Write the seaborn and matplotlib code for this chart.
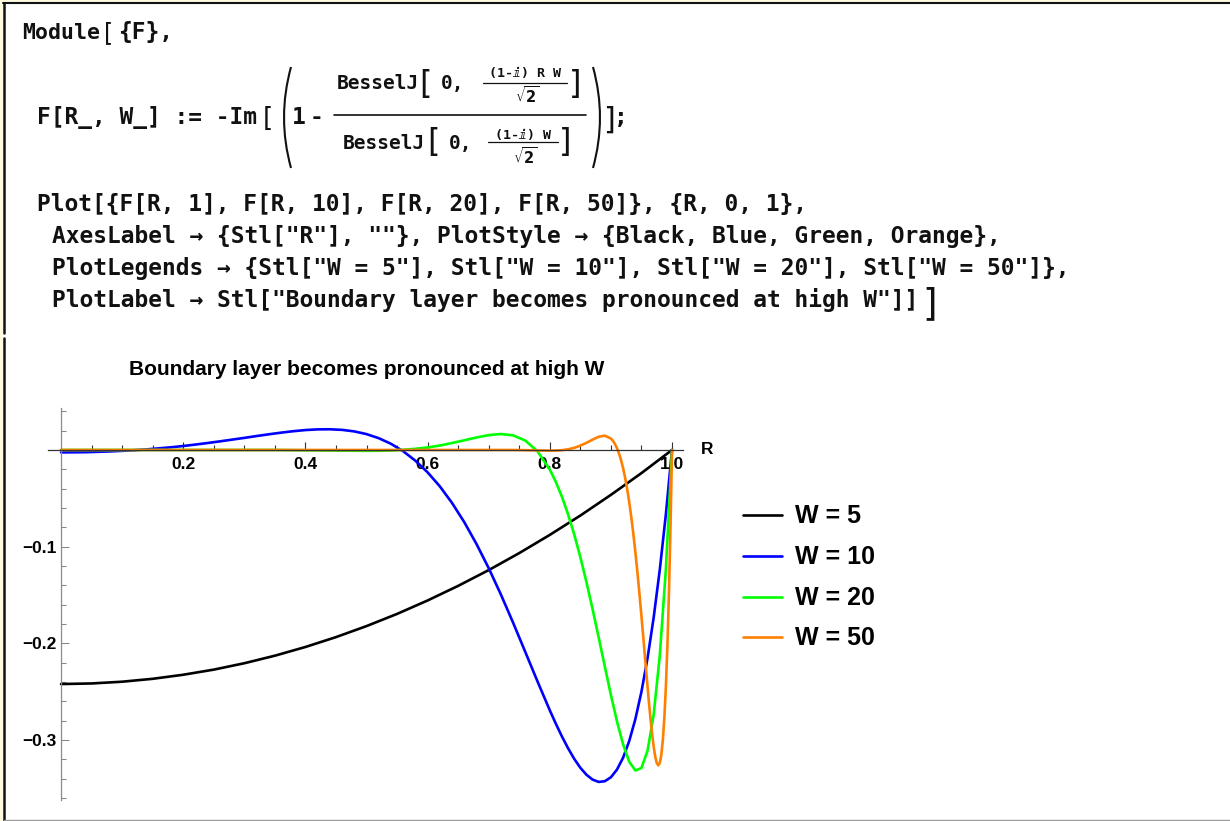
import matplotlib
matplotlib.use("Agg")
import matplotlib.pyplot as plt
import numpy as np
import pandas as pd
import seaborn as sns
from matplotlib.lines import Line2D
from matplotlib.patches import Rectangle, PathPatch
from matplotlib.path import Path
from matplotlib.ticker import FixedLocator, FuncFormatter

# ---------------------------------------------------------------- data
R_W1 = [0.00, 0.05, 0.10, 0.15, 0.20, 0.25, 0.30, 0.35, 0.40, 0.45,
        0.50, 0.55, 0.60, 0.65, 0.70, 0.75, 0.80, 0.85, 0.90, 0.95, 1.00]
F_W1 = [-0.2420, -0.2414, -0.2396, -0.2366, -0.2324, -0.2271, -0.2205, -0.2127, -0.2037, -0.1935,
        -0.1821, -0.1695, -0.1556, -0.1405, -0.1242, -0.1066, -0.0878, -0.0678, -0.0464, -0.0239,
        0.0]

R_W10 = [0.00, 0.02, 0.04, 0.06, 0.08, 0.10, 0.12, 0.14, 0.16, 0.18,
         0.20, 0.22, 0.24, 0.26, 0.28, 0.30, 0.32, 0.34, 0.36, 0.38,
         0.40, 0.42, 0.44, 0.46, 0.48, 0.50, 0.52, 0.54, 0.56, 0.58,
         0.60, 0.62, 0.64, 0.66, 0.68, 0.70, 0.72, 0.74, 0.76, 0.78,
         0.80, 0.81, 0.82, 0.83, 0.84, 0.85, 0.86, 0.87, 0.88, 0.89,
         0.90, 0.91, 0.92, 0.93, 0.94, 0.95, 0.96, 0.97, 0.98, 0.99,
         1.00]
F_W10 = [-0.0025, -0.0024, -0.0023, -0.0019, -0.0015, -0.0009, -0.0002, 0.0006, 0.0017, 0.0028,
         0.0041, 0.0056, 0.0072, 0.0089, 0.0107, 0.0125, 0.0144, 0.0162, 0.0179, 0.0194,
         0.0206, 0.0213, 0.0214, 0.0208, 0.0192, 0.0164, 0.0122, 0.0064, -0.0013, -0.0111,
         -0.0231, -0.0376, -0.0548, -0.0746, -0.0972, -0.1222, -0.1495, -0.1787, -0.2090, -0.2395,
         -0.2692, -0.2832, -0.2964, -0.3085, -0.3194, -0.3286, -0.3358, -0.3408, -0.3432, -0.3425,
         -0.3384, -0.3304, -0.3181, -0.3009, -0.2783, -0.2499, -0.2151, -0.1732, -0.1238, -0.0663,
         0.0]

R_W20 = [0.00, 0.05, 0.10, 0.15, 0.20, 0.25, 0.30, 0.35, 0.40, 0.45,
         0.50, 0.52, 0.54, 0.56, 0.58, 0.60, 0.62, 0.64, 0.66, 0.68,
         0.70, 0.72, 0.74, 0.76, 0.78, 0.80, 0.81, 0.82, 0.83, 0.84,
         0.85, 0.86, 0.87, 0.88, 0.89, 0.90, 0.91, 0.92, 0.93, 0.94,
         0.95, 0.96, 0.97, 0.98, 0.99, 1.00]
F_W20 = [0.0, 0.0, 0.0, 0.0, 0.0, 0.0, 0.0, 0.0, -0.0003, -0.0006,
         -0.0009, -0.0008, -0.0005, 0.0002, 0.0012, 0.0026, 0.0046, 0.0072, 0.0100, 0.0129,
         0.0154, 0.0165, 0.0151, 0.0097, -0.0015, -0.0203, -0.0332, -0.0486, -0.0667, -0.0874,
         -0.1108, -0.1367, -0.1645, -0.1939, -0.2238, -0.2533, -0.2808, -0.3045, -0.3223, -0.3314,
         -0.3288, -0.3109, -0.2736, -0.2126, -0.1230, 0.0]

R_W50 = [0.00, 0.05, 0.10, 0.15, 0.20, 0.25, 0.30, 0.35, 0.40, 0.45,
         0.50, 0.55, 0.60, 0.65, 0.70, 0.71, 0.72, 0.73, 0.74, 0.75,
         0.76, 0.77, 0.78, 0.79, 0.80, 0.81, 0.82, 0.83, 0.84, 0.85,
         0.86, 0.87, 0.88, 0.89, 0.90, 0.9025, 0.905, 0.9075, 0.91, 0.9125,
         0.915, 0.9175, 0.92, 0.9225, 0.925, 0.9275, 0.93, 0.9325, 0.935, 0.9375,
         0.94, 0.9425, 0.945, 0.9475, 0.95, 0.9525, 0.955, 0.9575, 0.96, 0.9625,
         0.965, 0.9675, 0.97, 0.9725, 0.975, 0.9775, 0.98, 0.9825, 0.985, 0.9875,
         0.99, 0.9925, 0.995, 0.9975, 1.00]
F_W50 = [0.0, 0.0, 0.0, 0.0, 0.0, 0.0, 0.0, 0.0, 0.0, 0.0,
         0.0, 0.0, 0.0, 0.0, 0.0, 0.0, 0.0, 0.0, 0.0, -0.0001,
         -0.0002, -0.0003, -0.0005, -0.0006, -0.0007, -0.0006, -0.0002, 0.0007, 0.0022, 0.0045,
         0.0074, 0.0107, 0.0137, 0.0148, 0.0118, 0.0101, 0.0079, 0.0051, 0.0018, -0.0023,
         -0.0070, -0.0126, -0.0190, -0.0263, -0.0345, -0.0437, -0.0540, -0.0653, -0.0776, -0.0910,
         -0.1054, -0.1207, -0.1370, -0.1541, -0.1718, -0.1900, -0.2084, -0.2269, -0.2451, -0.2626,
         -0.2791, -0.2940, -0.3068, -0.3169, -0.3236, -0.3261, -0.3236, -0.3152, -0.2999, -0.2767,
         -0.2444, -0.2018, -0.1477, -0.0809, 0.0]

SERIES = ["W = 5", "W = 10", "W = 20", "W = 50"]
COLORS = ["#000000", "#0000ff", "#00ff00", "#ff8000"]
TITLE = "Boundary layer becomes pronounced at high W"
X_MAJOR = [0.2, 0.4, 0.6, 0.8, 1.0]
Y_MAJOR = [-0.3, -0.2, -0.1]

# ---------------------------------------------------------------- style
sns.set_style("white", {"xtick.bottom": True, "ytick.left": True})
plt.rcParams["font.family"] = ["Liberation Sans", "DejaVu Sans"]
plt.rcParams["text.color"] = "black"
plt.rcParams["xtick.labelcolor"] = "black"
plt.rcParams["ytick.labelcolor"] = "black"
MONO = ["DejaVu Sans Mono", "DejaVu Sans"]
INK = "#111111"

W_PX, H_PX = 1230, 821
fig = plt.figure(figsize=(W_PX / 100, H_PX / 100), dpi=100)
fig.patch.set_facecolor("white")


def fx(x):
    return x / W_PX


def fy(y):
    return 1 - y / H_PX


def fline(xs, ys, **kw):
    fig.add_artist(Line2D([fx(x) for x in xs], [fy(y) for y in ys],
                          transform=fig.transFigure, **kw))


def ftext(x, y, s, **kw):
    fig.text(fx(x), fy(y), s, **kw)


# notebook cell frame
fig.add_artist(Rectangle((0, 0), fx(3), 1, transform=fig.transFigure,
                         facecolor="#fffbe0", edgecolor="none"))
fig.add_artist(Rectangle((0, fy(3)), 1, 3 / H_PX, transform=fig.transFigure,
                         facecolor="#fffbe0", edgecolor="none"))
fline([3, W_PX], [3.5, 3.5], color=INK, lw=1.5)
fline([4, 4], [3, 333], color=INK, lw=1.8)
fline([4, 4], [338, H_PX], color=INK, lw=1.8)
fline([4, W_PX], [819.5, 819.5], color="#999999", lw=1.0)

# ---------------------------------------------------------------- code text
code_kw = dict(family=MONO, fontweight="bold", fontsize=16.5, color=INK, va="baseline")
frac_kw = dict(code_kw, fontsize=14)
small_kw = dict(family=MONO, fontweight="bold", fontsize=9.5, color=INK,
                ha="center", va="center")
brk_kw = dict(family="DejaVu Sans", fontweight="normal", color=INK,
              ha="center", va="center")

ftext(22, 39, "Module", fontsize=15.5, **{k: v for k, v in code_kw.items() if k != "fontsize"})
ftext(109, 33, "[", fontsize=17, **brk_kw)
ftext(118, 39, "{F},", **code_kw)

ftext(37, 124, "F[R_, W_] := -Im", **code_kw)
ftext(268, 119, "[", fontsize=19, **brk_kw)
ftext(292, 124, "1", **code_kw)
ftext(310, 124, "-", **code_kw)


def paren(x0, y0, y1, bulge):
    verts = [(fx(x0), fy(y0)), (fx(x0 - bulge), fy((y0 + y1) / 2)), (fx(x0), fy(y1))]
    p = Path(verts, [Path.MOVETO, Path.CURVE3, Path.CURVE3])
    fig.add_artist(PathPatch(p, transform=fig.transFigure, fill=False,
                             edgecolor=INK, lw=1.5))


paren(291, 67, 168, 14)
paren(593, 67, 168, -14)

# main fraction
fline([334, 586], [115, 115], color=INK, lw=1.2)
ftext(337, 89, "BesselJ", **frac_kw)
ftext(426, 84, "[", fontsize=23, **brk_kw)
ftext(441, 89, "0,", **frac_kw)
ftext(525, 74, "(1-ⅈ) R W", **small_kw)
fline([483, 567], [82.5, 82.5], color=INK, lw=0.9)
ftext(527, 95, r"$\sqrt{\mathbf{2}}$", fontsize=10.5, ha="center", va="center", color=INK)
ftext(575, 84, "]", fontsize=23, **brk_kw)

ftext(343, 149, "BesselJ", **frac_kw)
ftext(434, 143, "[", fontsize=23, **brk_kw)
ftext(449, 149, "0,", **frac_kw)
ftext(523, 135, "(1-ⅈ) W", **small_kw)
fline([488, 558], [142.5, 142.5], color=INK, lw=0.9)
ftext(525, 156, r"$\sqrt{\mathbf{2}}$", fontsize=10.5, ha="center", va="center", color=INK)
ftext(565, 143, "]", fontsize=23, **brk_kw)

ftext(609, 120, "]", fontsize=22, **brk_kw)
ftext(614, 124, ";", **code_kw)

ftext(37, 211, "Plot[{F[R, 1], F[R, 10], F[R, 20], F[R, 50]}, {R, 0, 1},", **code_kw)
ftext(52, 243, "AxesLabel → {Stl[\"R\"], \"\"}, PlotStyle → {Black, Blue, Green, Orange},", **code_kw)
ftext(52, 275, "PlotLegends → {Stl[\"W = 5\"], Stl[\"W = 10\"], Stl[\"W = 20\"], Stl[\"W = 50\"]},", **code_kw)
ftext(52, 307, "PlotLabel → Stl[\"Boundary layer becomes pronounced at high W\"]]", **code_kw)
ftext(930, 304, "]", fontsize=27, **brk_kw)

# ---------------------------------------------------------------- plot
x_lo, x_hi = -0.0213, 1.018
y_lo, y_hi = -0.3619, 0.0434
ax_l, ax_r, ax_t, ax_b = 48, 683, 408, 800
ax = fig.add_axes([fx(ax_l), fy(ax_b), fx(ax_r - ax_l), (ax_b - ax_t) / H_PX])
ax.set_facecolor("none")

frames = []
for name, rr, ff in zip(SERIES, [R_W1, R_W10, R_W20, R_W50], [F_W1, F_W10, F_W20, F_W50]):
    frames.append(pd.DataFrame({"R": rr, "F": ff, "series": name}))
df = pd.concat(frames, ignore_index=True)

sns.lineplot(data=df, x="R", y="F", hue="series", hue_order=SERIES,
             palette=COLORS, estimator=None, sort=False, linewidth=1.9,
             legend=False, ax=ax)

ax.set_xlim(x_lo, x_hi)
ax.set_ylim(y_lo, y_hi)
ax.set_xlabel("")
ax.set_ylabel("")

for side in ("top", "right"):
    ax.spines[side].set_visible(False)
ax.spines["left"].set_position(("data", 0))
ax.spines["bottom"].set_position(("data", 0))
ax.spines["left"].set_color("#8a8a8a")
ax.spines["bottom"].set_color("#333333")
ax.spines["left"].set_linewidth(0.9)
ax.spines["bottom"].set_linewidth(0.9)

x_minor = [v / 100 for v in range(5, 101, 5) if v % 20 != 0]
y_minor = [v / 100 for v in range(4, -37, -2) if v != 0 and v % 10 != 0]
ax.xaxis.set_major_locator(FixedLocator(X_MAJOR))
ax.xaxis.set_minor_locator(FixedLocator(x_minor))
ax.yaxis.set_major_locator(FixedLocator(Y_MAJOR))
ax.yaxis.set_minor_locator(FixedLocator(y_minor))
ax.xaxis.set_major_formatter(FuncFormatter(lambda v, p: f"{v:.1f}"))
ax.yaxis.set_major_formatter(FuncFormatter(lambda v, p: f"{v:.1f}".replace("-", "\u2212")))

ax.tick_params(axis="x", which="both", bottom=True, direction="in", color="#333333",
               width=0.8, labelsize=12.5, pad=5, labelcolor="black")
ax.tick_params(axis="x", which="major", length=5.5)
ax.tick_params(axis="x", which="minor", length=3.5)
ax.tick_params(axis="y", which="both", left=True, direction="in", color="#8a8a8a",
               width=0.8, labelsize=12.5, pad=3.5, labelcolor="black")
ax.tick_params(axis="y", which="major", length=5.5)
ax.tick_params(axis="y", which="minor", length=3.5)
for lab in ax.get_xticklabels() + ax.get_yticklabels():
    lab.set_fontweight("bold")

ax.text(1.057, 0, "R", fontsize=12.5, fontweight="bold", ha="center", va="center",
        clip_on=False, color="black")

ftext(367, 369, TITLE, fontsize=15, fontweight="bold", ha="center", va="center", color="black")

# legend
leg_y = [515, 556, 597, 637]
for name, col, y in zip(SERIES, COLORS, leg_y):
    fline([743, 782], [y, y], color=col, lw=1.9)
    ftext(795, y + 1, name, fontsize=18, fontweight="bold", ha="left", va="center", color="black")

fig.savefig("out.png", dpi=100, facecolor="white")
